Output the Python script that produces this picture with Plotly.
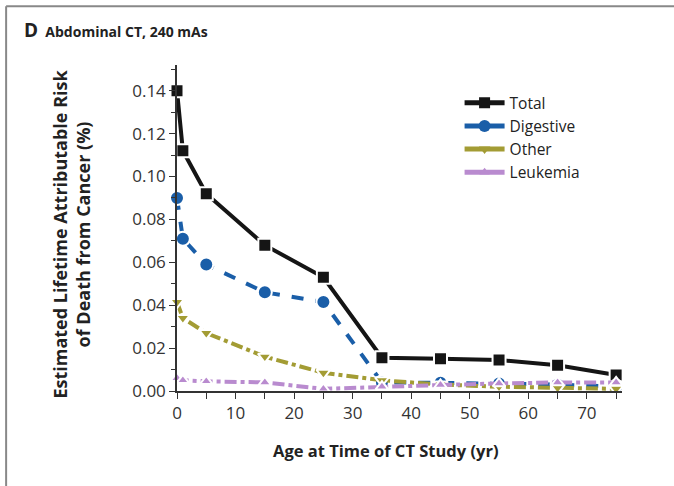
import plotly.graph_objects as go

ages = [0, 1, 5, 15, 25, 35, 45, 55, 65, 75]
total = [0.140, 0.112, 0.092, 0.068, 0.053, 0.0155, 0.015, 0.0145, 0.012, 0.0075]
digestive = [0.090, 0.071, 0.059, 0.046, 0.0415, 0.004, 0.0038, 0.0035, 0.003, 0.002]
other = [0.0415, 0.034, 0.027, 0.016, 0.0085, 0.005, 0.003, 0.002, 0.0015, 0.001]
leukemia = [0.006, 0.005, 0.0045, 0.004, 0.001, 0.002, 0.0028, 0.0035, 0.004, 0.004]

xticks = [0, 10, 20, 30, 40, 50, 60, 70]
yticks = [0.00, 0.02, 0.04, 0.06, 0.08, 0.10, 0.12, 0.14]
ytick_labels = ["0.00", "0.02", "0.04", "0.06", "0.08", "0.10", "0.12", "0.14"]

series = [
    ("Total", total, "#151515", "square", 13, "solid"),
    ("Digestive", digestive, "#1a5ea8", "circle", 14, "dash"),
    ("Other", other, "#a39c34", "triangle-down", 12, "dashdot"),
    ("Leukemia", leukemia, "#b98bcf", "triangle-up", 11, "dashdot"),
]

fig = go.Figure()
for name, vals, col, sym, sz, dash in series:
    fig.add_trace(go.Scatter(
        x=ages, y=vals, name=name, mode="lines+markers", showlegend=False,
        line=dict(color=col, width=4, dash=dash),
        marker=dict(symbol=sym, size=sz, color=col, line=dict(color="white", width=2)),
        cliponaxis=False,
    ))
for name, vals, col, sym, sz, dash in series:
    fig.add_trace(go.Scatter(
        x=[None], y=[None], name=name, mode="lines+markers", showlegend=True,
        line=dict(color=col, width=5, dash="solid"),
        marker=dict(symbol=sym, size=sz - 2, color=col),
    ))

font = "Open Sans, Liberation Sans, sans-serif"
fig.update_layout(
    width=674, height=486,
    paper_bgcolor="white", plot_bgcolor="white",
    margin=dict(l=177, r=52, t=65, b=95),
    font=dict(family=font, size=16, color="#222"),
    showlegend=True,
    legend=dict(x=0.635, y=0.935, xanchor="left", yanchor="top",
                font=dict(size=15.5, color="#222"), bgcolor="rgba(0,0,0,0)",
                itemwidth=40, tracegroupgap=0),
    xaxis=dict(range=[0, 76], tickvals=xticks, ticks="outside", ticklen=6,
               tickcolor="#333", showline=True, linecolor="#333", linewidth=1.5,
               showgrid=False, zeroline=False, automargin=False,
               tickfont=dict(size=17, color="#333"),
               minor=dict(dtick=5, ticks="outside", ticklen=6, tickcolor="#333")),
    yaxis=dict(range=[0, 0.152], tickvals=yticks, ticktext=ytick_labels, ticks="outside",
               ticklen=6, tickcolor="#333", showline=True, linecolor="#333", linewidth=1.5,
               showgrid=False, zeroline=False, automargin=False,
               tickfont=dict(size=17, color="#333"),
               minor=dict(dtick=0.01, ticks="outside", ticklen=4, tickcolor="#333")),
)

fig.add_annotation(xref="paper", yref="paper", x=0.47, y=-0.184, xanchor="center", yanchor="middle",
                   text="<b>Age at Time of CT Study (yr)</b>", showarrow=False,
                   font=dict(size=16.5, color="#222"))
fig.add_annotation(xref="paper", yref="paper", x=-0.238, y=0.48, xanchor="center", yanchor="middle",
                   text="<b>Estimated Lifetime Attributable Risk<br>of Death from Cancer (%)</b>",
                   textangle=-90, showarrow=False, font=dict(size=18, color="#222"))
fig.add_annotation(xref="paper", yref="paper", x=-0.348, y=1.107, xanchor="left", yanchor="middle",
                   text="<b><span style='font-size:19px'>D</span>  Abdominal CT, 240 mAs</b>",
                   showarrow=False, font=dict(size=14, color="#222"))
fig.add_shape(type="line", xref="paper", yref="paper", x0=-0.384, x1=1.2, y0=1.18, y1=1.18,
              line=dict(color="#888", width=2))
fig.add_shape(type="line", xref="paper", yref="paper", x0=-0.384, x1=-0.384, y0=1.18, y1=-0.3,
              line=dict(color="#888", width=2))

fig.write_html("out.html", post_script="document.body.style.margin='0';",
               config={"displayModeBar": False})
